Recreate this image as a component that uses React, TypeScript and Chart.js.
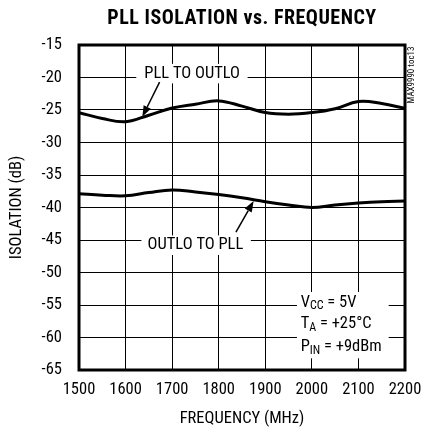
import React, { useEffect, useRef } from "react";
import { Chart, registerables } from "chart.js";

Chart.register(...registerables);

const FONT = "'Roboto Condensed', 'Liberation Sans', sans-serif";

const TITLE = "PLL ISOLATION vs. FREQUENCY";
const X_TITLE = "FREQUENCY (MHz)";
const Y_TITLE = "ISOLATION (dB)";
const SIDE_NOTE = "MAX9990 toc13";

const frequencies = [1500, 1550, 1600, 1650, 1700, 1750, 1800, 1850, 1900, 1950, 2000, 2050, 2100, 2150, 2200];
const pllToOutlo = [-25.4, -26.3, -26.8, -25.8, -24.7, -24.1, -23.6, -24.4, -25.4, -25.65, -25.4, -24.8, -23.7, -24.0, -24.75];
const outloToPll = [-37.9, -38.1, -38.2, -37.7, -37.3, -37.6, -38.0, -38.5, -39.1, -39.6, -40.0, -39.6, -39.3, -39.1, -39.0];

const X_MIN = 1500, X_MAX = 2200, X_STEP = 100;
const Y_MIN = -65, Y_MAX = -15, Y_STEP = 5;

// annotation anchors in data units
const label1 = { text: "PLL TO OUTLO", x: 1743, y: -19.4, box: [1623, 1862, -17.9, -20.9], from: [1673, -20.7], to: [1636, -26.05] };
const label2 = { text: "OUTLO TO PLL", x: 1750, y: -45.8, box: [1634, 1869, -44.3, -47.3], from: [1837, -43.8], to: [1875, -39.0] };
const cond = { x: 1976, ys: [-54.6, -57.95, -61.45], box: [1968, 2165, -53.0, -63.2] };

const annotPlugin = {
  id: "annot",
  beforeDatasetsDraw(chart: any) {
    const { ctx, scales } = chart;
    const xs = scales.x, ys = scales.y;
    ctx.save();
    ctx.fillStyle = "#fff";
    for (const b of [label1.box, label2.box, cond.box]) {
      const x0 = xs.getPixelForValue(b[0]);
      const x1 = xs.getPixelForValue(b[1]);
      const y0 = ys.getPixelForValue(b[2]);
      const y1 = ys.getPixelForValue(b[3]);
      ctx.fillRect(x0, y0, x1 - x0, y1 - y0);
    }
    ctx.restore();
  },
  afterDraw(chart: any) {
    const { ctx, scales, chartArea } = chart;
    const xs = scales.x, ys = scales.y;
    ctx.save();
    // plot frame
    ctx.strokeStyle = "#000";
    ctx.lineWidth = 3;
    ctx.strokeRect(chartArea.left, chartArea.top, chartArea.right - chartArea.left, chartArea.bottom - chartArea.top);

    // title
    ctx.fillStyle = "#000";
    ctx.textAlign = "center";
    ctx.textBaseline = "middle";
    ctx.font = `bold 20px ${FONT}`;
    try { (ctx as any).letterSpacing = "0.5px"; } catch (e) {}
    ctx.fillText(TITLE, (chartArea.left + chartArea.right) / 2, 18.5);
    try { (ctx as any).letterSpacing = "0px"; } catch (e) {}

    // labels
    ctx.font = `16.5px ${FONT}`;
    for (const l of [label1, label2]) {
      ctx.textAlign = "center";
      ctx.fillText(l.text, xs.getPixelForValue(l.x), ys.getPixelForValue(l.y));
      const fx = xs.getPixelForValue(l.from[0]), fy = ys.getPixelForValue(l.from[1]);
      const tx = xs.getPixelForValue(l.to[0]), ty = ys.getPixelForValue(l.to[1]);
      const ang = Math.atan2(ty - fy, tx - fx);
      const hl = 11, hw = 4;
      const bx = tx - hl * Math.cos(ang), by = ty - hl * Math.sin(ang);
      ctx.lineWidth = 1.5;
      ctx.beginPath();
      ctx.moveTo(fx, fy);
      ctx.lineTo(bx, by);
      ctx.stroke();
      ctx.beginPath();
      ctx.moveTo(tx, ty);
      ctx.lineTo(bx + hw * Math.sin(ang), by - hw * Math.cos(ang));
      ctx.lineTo(bx - hw * Math.sin(ang), by + hw * Math.cos(ang));
      ctx.closePath();
      ctx.fill();
    }

    // conditions with subscripts
    const parts: [string, string, string][] = [["V", "CC", " = 5V"], ["T", "A", " = +25°C"], ["P", "IN", " = +9dBm"]];
    ctx.textAlign = "left";
    const cx = xs.getPixelForValue(cond.x);
    parts.forEach((p, i) => {
      const y = ys.getPixelForValue(cond.ys[i]);
      let x = cx;
      ctx.font = `16.5px ${FONT}`;
      ctx.fillText(p[0], x, y);
      x += ctx.measureText(p[0]).width;
      ctx.font = `12px ${FONT}`;
      ctx.fillText(p[1], x, y + 4);
      x += ctx.measureText(p[1]).width;
      ctx.font = `16.5px ${FONT}`;
      ctx.fillText(p[2], x, y);
    });

    // side note
    ctx.font = `9px ${FONT}`;
    ctx.translate(412, 75);
    ctx.rotate(-Math.PI / 2);
    ctx.textAlign = "center";
    ctx.fillText(SIDE_NOTE, 0, 0);
    ctx.restore();
  },
};

export default function App() {
  const ref = useRef<HTMLCanvasElement>(null);
  useEffect(() => {
    document.body.style.margin = "0";
    const chart = new Chart(ref.current!, {
      type: "line",
      data: {
        datasets: [
          {
            label: "PLL TO OUTLO",
            data: frequencies.map((f, i) => ({ x: f, y: pllToOutlo[i] })),
            borderColor: "#000",
            borderWidth: 3,
            pointRadius: 0,
            tension: 0.4,
            fill: false,
          },
          {
            label: "OUTLO TO PLL",
            data: frequencies.map((f, i) => ({ x: f, y: outloToPll[i] })),
            borderColor: "#000",
            borderWidth: 3,
            pointRadius: 0,
            tension: 0.4,
            fill: false,
          },
        ],
      },
      options: {
        animation: false,
        responsive: false,
        layout: { padding: { top: 45, right: 19, left: 0, bottom: 0 } },
        plugins: { legend: { display: false }, tooltip: { enabled: false }, title: { display: false } },
        scales: {
          x: {
            type: "linear",
            min: X_MIN,
            max: X_MAX,
            afterFit: (s: any) => { s.height = 59; s.paddingLeft = 0; s.paddingRight = 0; },
            grid: { color: "#000", lineWidth: 1, drawTicks: false },
            border: { display: false },
            ticks: {
              stepSize: X_STEP,
              padding: 10,
              color: "#000",
              font: { family: FONT, size: 16.5 },
              callback: (v: any) => String(v),
              maxRotation: 0,
            },
            title: { display: true, text: X_TITLE, color: "#000", font: { family: FONT, size: 16.5 }, padding: { top: 0, bottom: 0 } },
          },
          y: {
            type: "linear",
            min: Y_MIN,
            max: Y_MAX,
            afterFit: (s: any) => { s.width = 79; s.paddingTop = 0; s.paddingBottom = 0; },
            grid: { color: "#000", lineWidth: 1, drawTicks: false },
            border: { display: false },
            ticks: {
              stepSize: Y_STEP,
              padding: 17,
              color: "#000",
              font: { family: FONT, size: 16.5 },
              callback: (v: any) => String(v),
            },
            title: { display: true, text: Y_TITLE, color: "#000", font: { family: FONT, size: 16.5 }, padding: { top: 7, bottom: 0 } },
          },
        },
      },
      plugins: [annotPlugin],
    });
    return () => chart.destroy();
  }, []);
  return (
    <div style={{ width: 424, height: 429 }}>
      <canvas ref={ref} width={424} height={429} />
    </div>
  );
}
